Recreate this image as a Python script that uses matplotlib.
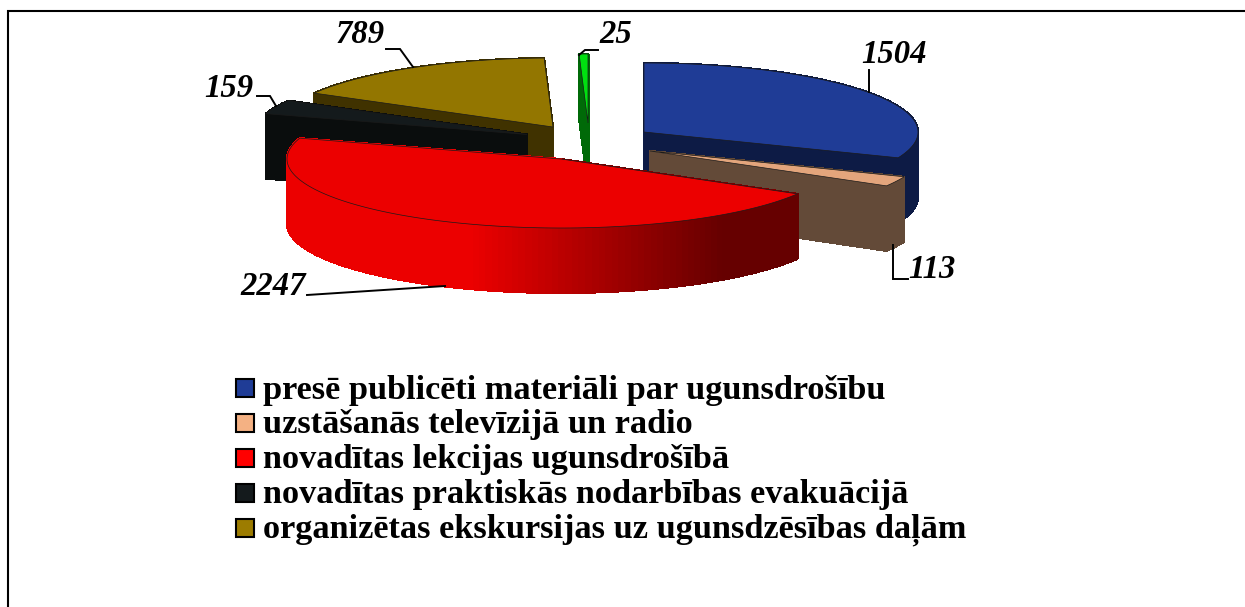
import numpy as np
import matplotlib
matplotlib.use("Agg")
import matplotlib.pyplot as plt
from matplotlib.patches import Polygon, Rectangle
from matplotlib.collections import PolyCollection
from matplotlib.colors import to_rgb

categories = ["presē publicēti materiāli par ugunsdrošību",
              "uzstāšanās televīzijā un radio",
              "novadītas lekcijas ugunsdrošībā",
              "novadītas praktiskās nodarbības evakuācijā",
              "organizētas ekskursijas uz ugunsdzēsības daļām"]
values = [1504, 113, 2247, 159, 789, 25]
top_colors = ["#1F3C96", "#E3A57C", "#EC0000", "#141A1C", "#937600", "#00E010"]
side_colors = ["#0D1B45", "#634A38", "#EC0000", "#0A0D0D", "#403200", "#006A08"]
legend_colors = ["#1F3C96", "#F4B183", "#FF0000", "#141A1C", "#9C7C00"]

# exploded position of each slice's apex, in pixels
apex = [(644, 132), (650, 151), (561, 159), (527, 134.5), (553, 127), (588, 123)]
RX, RY, DEPTH = 274, 69, 65
draw_order = [5, 4, 3, 0, 1, 2]

label_pos = {1504: (894, 63), 113: (932, 278), 25: (616, 43),
             159: (229, 97), 789: (360, 43), 2247: (273, 295)}
leaders = {1504: [(869, 70), (869, 92)],
           113: [(893, 245), (893, 279), (908, 279)],
           25: [(598, 50), (585, 50), (579, 55)],
           159: [(257, 96), (270, 96), (276, 106)],
           789: [(386, 49), (400, 49), (413, 67)],
           2247: [(307, 295), (445, 286)]}

fig = plt.figure(figsize=(12.45, 6.07), dpi=100)
ax = fig.add_axes([0, 0, 1, 1])
ax.set_xlim(0, 1245)
ax.set_ylim(607, 0)
ax.axis("off")

# frame
ax.plot([8, 8, 1245], [607, 11, 11], color="black", lw=1.5, solid_joinstyle="miter")

fractions = np.cumsum([0] + values) / sum(values)


def red_shade(x):
    t = np.clip((x - 470) / (720 - 470), 0, 1)
    return (0.925 - 0.525 * t, 0, 0)


for i in draw_order:
    cx, cy = apex[i]
    th = 2 * np.pi * np.linspace(fractions[i], fractions[i + 1], 120)
    xs = np.r_[cx, cx + RX * np.sin(th)]
    ys = np.r_[cy, cy - RY * np.cos(th)]
    n = len(xs)
    quads, cols = [], []
    for a in range(n):
        b = (a + 1) % n
        quads.append([(xs[a], ys[a]), (xs[b], ys[b]),
                      (xs[b], ys[b] + DEPTH), (xs[a], ys[a] + DEPTH)])
        if i == 2:
            cols.append(red_shade((xs[a] + xs[b]) / 2))
        else:
            cols.append(to_rgb(side_colors[i]))
    ax.add_collection(PolyCollection(quads, facecolors=cols, edgecolors=cols,
                                     linewidths=0.8, antialiaseds=False,
                                     zorder=2 + draw_order.index(i)))
    ax.add_patch(Polygon(np.c_[xs, ys], closed=True, facecolor=top_colors[i],
                         edgecolor="#1a1a1a", linewidth=0.5,
                         zorder=2.5 + draw_order.index(i)))

for v in values:
    ax.plot(*zip(*leaders[v]), color="black", lw=1.4, zorder=20,
            solid_joinstyle="miter")
    x, y = label_pos[v]
    ax.text(x, y, str(v), family="Liberation Serif", style="italic", weight="bold",
            fontsize=23.5, ha="center", va="baseline", color="black", zorder=21)

swatch_y = [388, 423, 458, 493, 528]
text_y = [399, 433, 468, 503, 538]
for name, col, sy, ty in zip(categories, legend_colors, swatch_y, text_y):
    ax.add_patch(Rectangle((236, sy - 9), 18, 18, facecolor=col, edgecolor="black",
                           linewidth=1.5, zorder=5))
    ax.text(263, ty, name, family="Liberation Serif", weight="bold", fontsize=24.7,
            ha="left", va="baseline", color="black", zorder=5)

fig.savefig("out.png", dpi=100)
